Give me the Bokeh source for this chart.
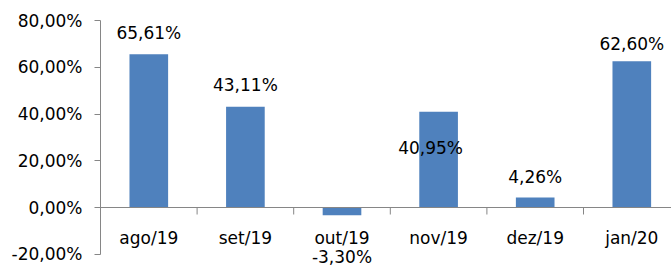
from bokeh.plotting import figure
from bokeh.models import Range1d, FixedTicker, LabelSet, ColumnDataSource, Span
from bokeh.core.properties import value
from bokeh.embed import file_html
from bokeh.resources import INLINE

categories = ["ago/19", "set/19", "out/19", "nov/19", "dez/19", "jan/20"]
values = [65.61, 43.11, -3.30, 40.95, 4.26, 62.60]
value_labels = ["65,61%", "43,11%", "-3,30%", "40,95%", "4,26%", "62,60%"]
y_ticks = [-20, 0, 20, 40, 60, 80]
y_tick_labels = ["-20,00%", "0,00%", "20,00%", "40,00%", "60,00%", "80,00%"]

# styling: pixel offsets of each data label (Excel-like placement)
label_dy = [21, 22, -42, -36, 21, 17]
label_dx = [0, 0, 0, -8, 0, 0]

FONT = "DejaVu Sans"
FS = "17px"
AXIS_COLOR = "#868686"
BAR_COLOR = "#4F81BD"

n = len(categories)
xs = list(range(n))
boundaries = [i - 0.5 for i in range(n + 1)]

FRAME_W = 571
CAT_PX = 96.6
FRAME_H = 248
PX_PER_UNIT = 2.3375
TICK_PX = 7
y_top = max(y_ticks)
y_bottom = y_top - FRAME_H / PX_PER_UNIT

p = figure(width=671, height=268, output_backend="svg", toolbar_location=None,
           x_range=Range1d(-0.5, -0.5 + FRAME_W / CAT_PX),
           y_range=Range1d(y_bottom, y_top),
           x_axis_location=None, min_border_left=100, min_border_right=0,
           min_border_top=20, min_border_bottom=0)
p.outline_line_color = None
p.grid.visible = False
p.background_fill_color = "white"
p.border_fill_color = "white"

p.vbar(x=xs, top=values, bottom=0, width=0.4, fill_color=BAR_COLOR, line_color=None)

# category axis drawn at zero
p.add_layout(Span(location=0, dimension="width", line_color=AXIS_COLOR, line_width=1))
p.segment(x0=boundaries, y0=[0] * len(boundaries), x1=boundaries,
          y1=[-TICK_PX / PX_PER_UNIT] * len(boundaries), line_color=AXIS_COLOR, line_width=1)

ya = p.yaxis[0]
ya.ticker = FixedTicker(ticks=y_ticks, minor_ticks=[])
ya.major_label_overrides = {t: l for t, l in zip(y_ticks, y_tick_labels)}
ya.bounds = (min(y_ticks), max(y_ticks))
ya.axis_line_color = AXIS_COLOR
ya.major_tick_line_color = AXIS_COLOR
ya.major_tick_out = 6
ya.major_tick_in = 0
ya.minor_tick_line_color = None
ya.major_label_text_font = FONT
ya.major_label_text_font_size = FS
ya.major_label_text_color = "black"
ya.major_label_standoff = 12

cat_src = ColumnDataSource(dict(x=xs, y=[0] * n, t=categories))
p.add_layout(LabelSet(x="x", y="y", text="t", y_offset=-30, source=cat_src,
                      text_align="center", text_baseline="middle",
                      text_font=value(FONT), text_font_size=value(FS), text_color="black"))

src = ColumnDataSource(dict(x=xs, y=values, t=value_labels, dx=label_dx, dy=label_dy))
p.add_layout(LabelSet(x="x", y="y", text="t", x_offset="dx", y_offset="dy", source=src,
                      text_align="center", text_baseline="middle",
                      text_font=value(FONT), text_font_size=value(FS), text_color="black"))

open("out.html", "w").write(file_html(p, INLINE))
